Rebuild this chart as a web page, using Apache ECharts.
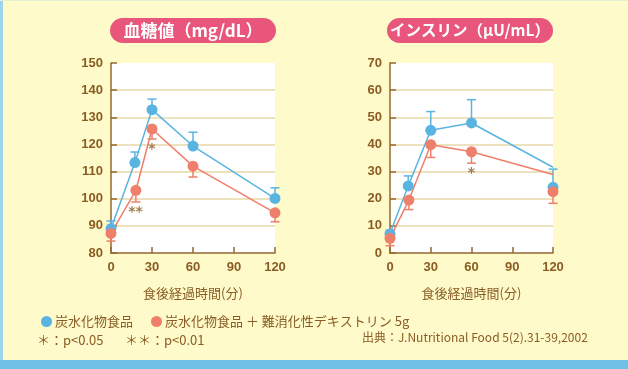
<!DOCTYPE html>
<html><head><meta charset="utf-8">
<script src="https://cdn.jsdelivr.net/npm/echarts@6/dist/echarts.min.js"></script>
<style>html,body{margin:0;padding:0;background:#fefac9;}#c{width:628px;height:369px;}</style>
</head><body><div id="c"></div>
<script>
// ---- data ----
const timeTicks = [0, 30, 60, 90, 120];
const glucoseBlueX = [0, 17.5, 30, 60, 120];
const glucoseBlue = [89, 113.3, 132.8, 119.4, 100.1];
const glucoseBlueErr = [91.8, 117.2, 136.7, 124.5, 104];
const glucoseRedX = [0, 18.2, 30, 60, 120];
const glucoseRed = [87.2, 103.1, 125.7, 112, 94.8];
const glucoseRedErr = [84.4, 98.8, 122, 108, 91.5];
const glucoseSig = [[30, 118, '*'], [18, 95, '**']];

const insulinBlueX = [0, 13.4, 30, 60, 120];
const insulinBlue = [7, 24.7, 45.2, 47.9, 24.2];
const insulinBlueLine = [7.2, 24.7, 45.2, 47.9, 31.6];
const insulinBlueErr = [8.4, 28.4, 52.1, 56.5, 30.9];
const insulinRedX = [0, 13.9, 30, 60, 120];
const insulinRed = [5.4, 19.5, 39.9, 37.3, 22.6];
const insulinRedLine = [5.4, 19.5, 39.9, 37.3, 28.9];
const insulinRedErr = [2.7, 16, 35.2, 33.1, 18.3];
const insulinSig = [[60, 29.4, '*']];

const nameA = '炭水化物食品';
const nameB = '炭水化物食品 ＋ 難消化性デキストリン 5g';
const titleA = '血糖値（mg/dL）';
const titleB = 'インスリン（μU/mL）';
const xName = '食後経過時間(分)';

// ---- style ----
const BLUE = '#5ab4e1', RED = '#ee7f6b', BROWN = '#8a5c24', AXIS = '#94682f', GRID = '#e9d7a9', PINK = '#e8567b';
const JP = '"Noto Sans CJK JP", sans-serif';
const NUM = '"Liberation Sans", Arial, sans-serif';
const zip = (xs, ys) => xs.map((x, i) => [x, ys[i]]);

function errBar(color, xs, ys, es, ai) {
  return {
    type: 'custom', xAxisIndex: ai, yAxisIndex: ai, clip: false, silent: true, z: 1,
    data: xs.map((x, i) => [x, ys[i], es[i]]),
    renderItem: (params, api) => {
      const p = api.coord([api.value(0), api.value(1)]);
      const e = api.coord([api.value(0), api.value(2)]);
      return {
        type: 'group', children: [
          { type: 'line', shape: { x1: p[0], y1: p[1], x2: e[0], y2: e[1] }, style: { stroke: color, lineWidth: 1.5 } },
          { type: 'line', shape: { x1: e[0] - 4.5, y1: e[1], x2: e[0] + 4.5, y2: e[1] }, style: { stroke: color, lineWidth: 1.5 } }
        ]
      };
    }
  };
}
function line(color, data, ai) {
  return { type: 'line', xAxisIndex: ai, yAxisIndex: ai, data, showSymbol: false, clip: false, silent: true, z: 2,
    lineStyle: { color, width: 1.5 }, itemStyle: { color } };
}
function pts(name, color, data, ai) {
  return { type: 'scatter', name, xAxisIndex: ai, yAxisIndex: ai, data, symbol: 'circle', symbolSize: 11, clip: false, z: 3,
    itemStyle: { color, opacity: 1 } };
}
function sig(data, ai) {
  return { type: 'scatter', xAxisIndex: ai, yAxisIndex: ai, data, symbolSize: 0, silent: true, z: 4,
    label: { show: true, position: 'inside', formatter: p => p.data[2], color: BROWN, fontSize: 14, fontFamily: '"DejaVu Sans", sans-serif', fontWeight: 'bold' } };
}
function xAx(gi) {
  return {
    type: 'value', gridIndex: gi, min: 0, max: 120, interval: 30,
    name: xName, nameLocation: 'middle', nameGap: 34,
    nameTextStyle: { color: BROWN, fontSize: 13, fontFamily: JP },
    axisLine: { show: true, lineStyle: { color: AXIS, width: 1.5 } },
    axisTick: { show: true, inside: true, length: 6, lineStyle: { color: AXIS, width: 1.5 } },
    axisLabel: { color: BROWN, fontSize: 13, fontWeight: 'bold', fontFamily: NUM, margin: 8 },
    splitLine: { show: false }
  };
}
function yAx(gi, min, max) {
  return {
    type: 'value', gridIndex: gi, min, max, interval: 10,
    axisLine: { show: true, lineStyle: { color: AXIS, width: 1.5 } },
    axisTick: { show: true, inside: true, length: 6, lineStyle: { color: AXIS, width: 1.5 } },
    axisLabel: { color: BROWN, fontSize: 13, fontWeight: 'bold', fontFamily: NUM, margin: 8 },
    splitLine: { show: true, lineStyle: { width: 1.5, color: ['rgba(0,0,0,0)', GRID, GRID, GRID, GRID, GRID, GRID, 'rgba(0,0,0,0)'] } }
  };
}
function pill(cx, cy, w, text, fs) {
  return {
    type: 'group', x: cx - w / 2, y: cy - 12.5, children: [
      { type: 'rect', shape: { x: 0, y: 0, width: w, height: 25, r: 12.5 }, style: { fill: PINK } },
      { type: 'text', x: w / 2, y: 12.5, style: { text, fill: '#fff', font: 'bold ' + fs + 'px ' + JP, align: 'center', verticalAlign: 'middle' } }
    ]
  };
}

const chart = echarts.init(document.getElementById('c'), null, { renderer: 'canvas' });
chart.setOption({
  backgroundColor: '#fefac9',
  animation: false,
  grid: [
    { left: 111, top: 63, width: 164, height: 190, show: true, backgroundColor: '#ffffff', borderWidth: 0, outerBoundsMode: 'none' },
    { left: 390, top: 63, width: 163, height: 190, show: true, backgroundColor: '#ffffff', borderWidth: 0, outerBoundsMode: 'none' }
  ],
  xAxis: [xAx(0), xAx(1)],
  yAxis: [yAx(0, 80, 150), yAx(1, 0, 70)],
  legend: {
    left: 36, top: 310, itemWidth: 11, itemHeight: 11, itemGap: 18, icon: 'circle',
    data: [nameA, nameB],
    textStyle: { color: BROWN, fontSize: 13, fontFamily: JP, padding: [0, 0, 0, -2] }
  },
  graphic: [
    { type: 'rect', left: 0, top: 0, shape: { width: 3, height: 369 }, style: { fill: '#9fd3f0' } },
    { type: 'rect', left: 0, top: 360, shape: { width: 628, height: 9 }, style: { fill: '#6fc1e7' } },
    { type: 'rect', left: 0, top: 0, shape: { width: 628, height: 1 }, style: { fill: '#e4f0d6' } },
    pill(193, 30.5, 166, titleA, 17),
    pill(470, 30.5, 166, titleB, 15.5),
    { type: 'text', left: 37, top: 334, style: { text: '＊：p<0.05', fill: BROWN, font: '13px ' + JP } },
    { type: 'text', left: 125, top: 334, style: { text: '＊＊：p<0.01', fill: BROWN, font: '13px ' + JP } },
    { type: 'text', left: 362, top: 331, style: { text: '出典：J.Nutritional Food 5(2).31-39,2002', fill: BROWN, font: '12px ' + JP } }
  ],
  series: [
    errBar(BLUE, glucoseBlueX, glucoseBlue, glucoseBlueErr, 0),
    errBar(RED, glucoseRedX, glucoseRed, glucoseRedErr, 0),
    line(BLUE, zip(glucoseBlueX, glucoseBlue), 0),
    line(RED, zip(glucoseRedX, glucoseRed), 0),
    pts(nameA, BLUE, zip(glucoseBlueX, glucoseBlue), 0),
    pts(nameB, RED, zip(glucoseRedX, glucoseRed), 0),
    sig(glucoseSig, 0),
    errBar(BLUE, insulinBlueX, insulinBlue, insulinBlueErr, 1),
    errBar(RED, insulinRedX, insulinRed, insulinRedErr, 1),
    line(BLUE, zip(insulinBlueX, insulinBlueLine), 1),
    line(RED, zip(insulinRedX, insulinRedLine), 1),
    pts(nameA, BLUE, zip(insulinBlueX, insulinBlue), 1),
    pts(nameB, RED, zip(insulinRedX, insulinRed), 1),
    sig(insulinSig, 1)
  ]
});
</script></body></html>
